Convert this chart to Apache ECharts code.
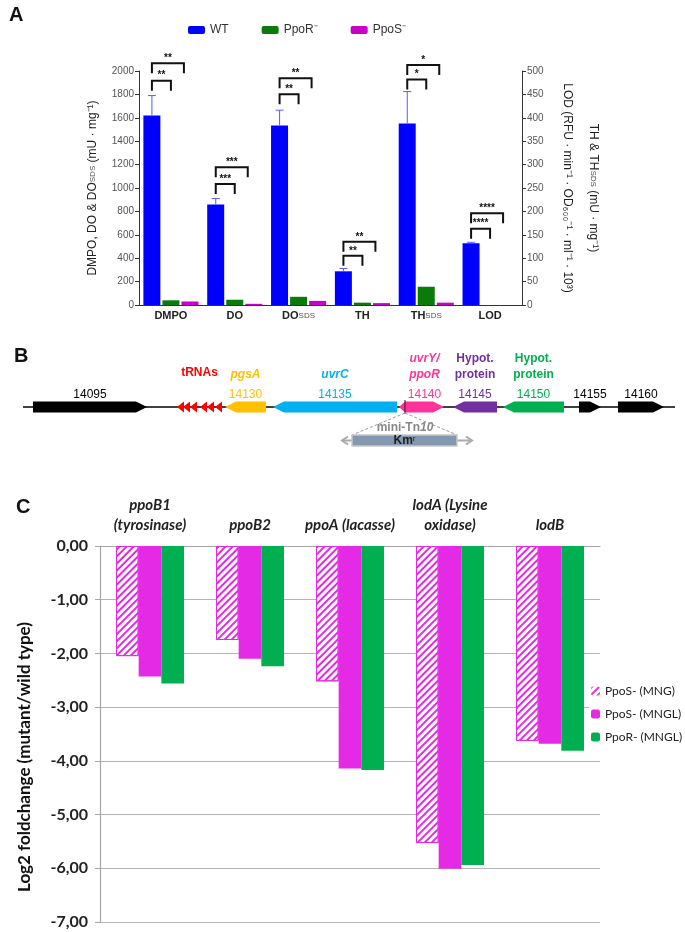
<!DOCTYPE html>
<html>
<head>
<meta charset="utf-8">
<script src="https://cdn.jsdelivr.net/npm/echarts@6/dist/echarts.min.js"></script>
<style>
  html, body { margin: 0; padding: 0; background: #fff; }
  #main { width: 685px; height: 932px; }
</style>
</head>
<body>
<div id="main"></div>
<script>
// ---- panel A : activities (left axis mU/mg, right axis for TH, THsds, LOD)
var assayCats = ['DMPO', 'DO', 'DO_SDS', 'TH', 'TH_SDS', 'LOD'];
var wtLeft    = [1620, 860, 1535, null, null, null];
var ppoRLeft  = [40, 45, 70, null, null, null];
var ppoSLeft  = [30, 10, 35, null, null, null];
var wtRight   = [null, null, null, 72, 388, 132];
var ppoRRight = [null, null, null, 5, 39, 0];
var ppoSRight = [null, null, null, 4, 5, 0];
var wtErrTop  = [1790, 910, 1665, 78, 456, 134];
var sigInner  = [1917, 1034, 1801, 105, 482, 163];
var sigOuter  = [2066, 1177, 1938, 135, 513, 196];
var sigLabels = ['**', '***', '**', '**', '*', '****'];

// ---- panel B : gene map
var locusEnds  = [23, 675];
var geneStart  = [33, 225, 273, 399, 405, 453, 503, 579, 618];
var geneEnd    = [147, 266, 397, 405, 444, 497, 564, 601, 664];
var geneStrand = [1, -1, -1, -1, 1, -1, -1, 1, 1];
var geneIds    = ['14095', '14130', '14135', '', '14140', '14145', '14150', '14155', '14160'];
var geneNames  = ['', 'pgsA', 'uvrC', '', 'uvrY/\nppoR', 'Hypot.\nprotein', 'Hypot.\nprotein', '', ''];
var trnaTips   = [177, 183, 190, 200, 207, 215];
var tnInsert   = 405;
var kmBox      = [352, 457];
var kmArrow    = [342, 472];

// ---- panel C : qPCR log2 fold change
var geneCats = ['ppoB1\n(tyrosinase)', 'ppoB2', 'ppoA (lacasse)', 'lodA (Lysine\noxidase)', 'lodB'];
var ppoSMNG  = [-2.05, -1.75, -2.52, -5.53, -3.63];
var ppoSMNGL = [-2.43, -2.10, -4.14, -6.01, -3.68];
var ppoRMNGL = [-2.56, -2.24, -4.17, -5.94, -3.81];

// styles
var geneColors = ['#000', '#FFC000', '#00B0F0', '#FF3399', '#FF3399', '#7030A0', '#00B050', '#000', '#000'];
var geneItalic = [false, true, true, false, true, false, false, false, false];
var magenta = '#E52AE5';
var barW = 17, barStep = 19;
var fontA = 'Liberation Sans, Arial, sans-serif';
var fontC = 'Lato, Open Sans, sans-serif';

var chart = echarts.init(document.getElementById('main'));

function sigData(from, to) {
  var out = [];
  for (var i = from; i < to; i++) {
    out.push([i, from < 3 ? wtLeft[i] : wtRight[i], wtErrTop[i], sigInner[i], sigOuter[i]]);
  }
  return out;
}

// error bar of WT + the two significance brackets
function renderSig(params, api) {
  var i = api.value(0);
  var c = api.coord([i, 0]);
  var xWT = c[0] - barStep, xR = c[0], xS = c[0] + 13;
  var yTop = api.coord([i, api.value(1)])[1];
  var yErr = api.coord([i, api.value(2)])[1];
  var yIn = api.coord([i, api.value(3)])[1];
  var yOut = api.coord([i, api.value(4)])[1];
  var br = { stroke: '#111', lineWidth: 2, fill: null };
  var lab = sigLabels[i];
  return {
    type: 'group',
    children: [
      { type: 'line', shape: { x1: xWT, y1: yTop, x2: xWT, y2: yErr }, style: { stroke: '#5a5aff', lineWidth: 1 } },
      { type: 'line', shape: { x1: xWT - 4, y1: yErr, x2: xWT + 4, y2: yErr }, style: { stroke: '#5a5aff', lineWidth: 1 } },
      { type: 'polyline', shape: { points: [[xWT, yIn + 10], [xWT, yIn], [xR, yIn], [xR, yIn + 10]] }, style: br },
      { type: 'polyline', shape: { points: [[xWT, yOut + 10], [xWT, yOut], [xS, yOut], [xS, yOut + 10]] }, style: br },
      { type: 'text', x: (xWT + xR) / 2, y: yIn - 5, style: { text: lab, fontSize: 10, fontWeight: 'bold', fill: '#111', align: 'center', verticalAlign: 'middle' } },
      { type: 'text', x: (xWT + xS) / 2, y: yOut - 5, style: { text: lab, fontSize: 10, fontWeight: 'bold', fill: '#111', align: 'center', verticalAlign: 'middle' } }
    ]
  };
}

function renderGene(params, api) {
  var k = params.dataIndex;
  var x1 = api.coord([api.value(0), 0.5])[0];
  var x2 = api.coord([api.value(1), 0.5])[0];
  var y = api.coord([api.value(0), 0.5])[1];
  var h = 5.5, head = Math.min(11, x2 - x1);
  var pts = geneStrand[k] > 0
    ? [[x1, y - h], [x2 - head, y - h], [x2, y], [x2 - head, y + h], [x1, y + h]]
    : [[x2, y - h], [x1 + head, y - h], [x1, y], [x1 + head, y + h], [x2, y + h]];
  var col = geneColors[k];
  var kids = [{ type: 'polygon', shape: { points: pts }, style: { fill: col } }];
  var cx = (x1 + x2) / 2;
  if (geneIds[k]) {
    kids.push({ type: 'text', x: cx, y: y - 12, style: { text: geneIds[k], fill: col, font: '12px ' + fontA, align: 'center', verticalAlign: 'middle' } });
  }
  if (geneNames[k]) {
    kids.push({ type: 'text', x: cx, y: y - 24, style: { text: geneNames[k], fill: col, font: (geneItalic[k] ? 'italic ' : '') + 'bold 12px ' + fontA, align: 'center', verticalAlign: 'bottom', lineHeight: 16 } });
  }
  return { type: 'group', children: kids };
}

function renderTrna(params, api) {
  var x = api.coord([api.value(0), 0.5]);
  var kids = [{ type: 'polygon', shape: { points: [[x[0], x[1]], [x[0] + 7, x[1] - 5.5], [x[0] + 7, x[1] + 5.5]] }, style: { fill: '#FF0000' } }];
  if (params.dataIndex === 0) {
    var mid = api.coord([(trnaTips[0] + trnaTips[trnaTips.length - 1] + 7) / 2, 0.5]);
    kids.push({ type: 'text', x: mid[0], y: mid[1] - 34, style: { text: 'tRNAs', fill: '#FF0000', font: 'bold 12px ' + fontA, align: 'center', verticalAlign: 'middle' } });
  }
  return { type: 'group', children: kids };
}

function renderTn(params, api) {
  var p = api.coord([api.value(0), 0.5]);
  var b1 = api.coord([api.value(1), 0.5])[0];
  var b2 = api.coord([api.value(2), 0.5])[0];
  var a1 = api.coord([api.value(3), 0.5])[0];
  var a2 = api.coord([api.value(4), 0.5])[0];
  var y = p[1];
  var by = y + 28, bh = 11, my = by + bh / 2;
  var dash = { stroke: '#999', lineWidth: 1, lineDash: [3, 2] };
  var arr = { stroke: '#aaa', lineWidth: 2, fill: null };
  return {
    type: 'group',
    children: [
      { type: 'line', shape: { x1: p[0], y1: y - 7, x2: p[0], y2: y + 7 }, style: { stroke: '#222', lineWidth: 1 } },
      { type: 'line', shape: { x1: p[0], y1: y + 6, x2: b1, y2: by }, style: dash },
      { type: 'line', shape: { x1: p[0], y1: y + 6, x2: b2, y2: by }, style: dash },
      { type: 'line', shape: { x1: a1, y1: my, x2: a2, y2: my }, style: arr },
      { type: 'polyline', shape: { points: [[a1 + 6, my - 4], [a1, my], [a1 + 6, my + 4]] }, style: arr },
      { type: 'polyline', shape: { points: [[a2 - 6, my - 4], [a2, my], [a2 - 6, my + 4]] }, style: arr },
      { type: 'rect', shape: { x: b1, y: by, width: b2 - b1, height: bh }, style: { fill: '#8497B0', stroke: '#c8c8c8', lineWidth: 1.5 } },
      { type: 'text', x: (b1 + b2) / 2, y: my, style: { text: 'Km{s|r}', rich: { s: { fontSize: 8, fill: '#222', verticalAlign: 'top' } }, fill: '#222', font: 'bold 12px ' + fontA, align: 'center', verticalAlign: 'middle' } },
      { type: 'text', x: p[0], y: by - 7, style: { text: 'mini-Tn{i|10}', rich: { i: { fontStyle: 'italic', fontWeight: 'bold', fontSize: 12, fill: '#888' } }, fill: '#888', font: 'bold 12px ' + fontA, align: 'center', verticalAlign: 'middle' } }
    ]
  };
}

var sdsRich = { s: { fontSize: 8, fontWeight: 'normal', color: '#555', fontFamily: fontA } };

var option = {
  animation: false,
  textStyle: { fontFamily: fontA },
  graphic: [
    { type: 'text', left: 9, top: 5, style: { text: 'A', font: 'bold 20px ' + fontA, fill: '#111' } },
    { type: 'text', left: 14, top: 346, style: { text: 'B', font: 'bold 20px ' + fontA, fill: '#111' } },
    { type: 'text', left: 16, top: 497, style: { text: 'C', font: 'bold 20px ' + fontA, fill: '#111' } },
    { type: 'text', x: 25, y: 757, rotation: Math.PI / 2, style: { text: 'Log2 foldchange (mutant/wild type)', font: 'bold 17px ' + fontC, fill: '#111', align: 'center', verticalAlign: 'middle' } }
  ],
  legend: [
    {
      data: ['WT', 'PpoR⁻', 'PpoS⁻'], left: 183, top: 19, itemWidth: 17, itemHeight: 8, itemGap: 33,
      selectedMode: false, textStyle: { fontSize: 12, color: '#333', fontFamily: 'Liberation Sans Narrow, Liberation Sans' }
    },
    {
      data: ['PpoS- (MNG)', 'PpoS- (MNGL)', 'PpoR- (MNGL)'], orient: 'vertical', left: 589, top: 683,
      itemWidth: 9, itemHeight: 9, itemGap: 11, itemStyle: { borderWidth: 0 }, selectedMode: false,
      backgroundColor: '#fff', padding: [2, 2], itemTextGap: 3,
      textStyle: { fontSize: 12, color: '#222', fontFamily: fontC }
    }
  ],
  grid: [
    { left: 139, top: 71, width: 383, height: 234, outerBoundsMode: 'none' },
    { left: 0, top: 397, width: 685, height: 20, outerBoundsMode: 'none' },
    { left: 100, top: 546, width: 500, height: 376, outerBoundsMode: 'none' }
  ],
  xAxis: [
    {
      type: 'category', gridIndex: 0, data: assayCats,
      axisLine: { lineStyle: { color: '#333', width: 1 } }, axisTick: { show: false },
      axisLabel: {
        margin: 5, interval: 0, fontSize: 11, fontWeight: 'bold', color: '#222',
        formatter: function (v) { return v.replace('_SDS', '{s|SDS}'); }, rich: sdsRich
      }
    },
    { type: 'category', gridIndex: 0, data: assayCats, show: false },
    { type: 'value', gridIndex: 1, min: 0, max: 685, show: false },
    {
      type: 'category', gridIndex: 2, data: geneCats, position: 'top',
      axisLine: { lineStyle: { color: '#A6A6A6', width: 1.2 } },
      axisTick: { inside: true, length: 4, lineStyle: { color: '#A6A6A6' } },
      axisLabel: { margin: 11, interval: 0, fontSize: 15, fontWeight: 'bold', fontStyle: 'italic', color: '#222', fontFamily: fontC, lineHeight: 20 }
    }
  ],
  yAxis: [
    {
      type: 'value', gridIndex: 0, min: 0, max: 2000, interval: 200,
      name: 'DMPO, DO & DO{s|SDS} (mU · mg⁻¹)', nameLocation: 'middle', nameGap: 40,
      nameTextStyle: { fontSize: 12, color: '#222', rich: sdsRich },
      axisLine: { show: true, lineStyle: { color: '#333' } },
      axisTick: { show: true, length: 4, lineStyle: { color: '#333' } },
      axisLabel: { margin: 5, fontSize: 10, color: '#555', formatter: function (v) { return String(v); } },
      splitLine: { show: false }
    },
    {
      type: 'value', gridIndex: 0, min: 0, max: 500, interval: 50, position: 'right',
      name: 'TH & TH{s|SDS} (mU · mg⁻¹)\nLOD (RFU · min⁻¹ · OD₆₀₀⁻¹ · ml⁻¹ · 10³)',
      nameLocation: 'middle', nameRotate: -90, nameGap: 28,
      nameTextStyle: { fontSize: 12, color: '#222', lineHeight: 26, rich: sdsRich },
      axisLine: { show: true, lineStyle: { color: '#333' } },
      axisTick: { show: true, length: 4, lineStyle: { color: '#333' } },
      axisLabel: { margin: 5, fontSize: 10, color: '#555', formatter: function (v) { return String(v); } },
      splitLine: { show: false }
    },
    { type: 'value', gridIndex: 1, min: 0, max: 1, show: false },
    {
      type: 'value', gridIndex: 2, min: -7, max: 0, interval: 1,
      axisLine: { show: true, lineStyle: { color: '#A6A6A6', width: 1.2 } },
      axisTick: { show: true, length: 5, lineStyle: { color: '#A6A6A6' } },
      axisLabel: {
        margin: 12, fontSize: 16, fontWeight: 'bold', color: '#222', fontFamily: fontC,
        formatter: function (v) { return v.toFixed(2).replace('.', ','); }
      },
      splitLine: { show: true, lineStyle: { color: '#B4B4B4', width: 1.2 } }
    }
  ],
  series: [
    { name: 'WT', type: 'bar', xAxisIndex: 0, yAxisIndex: 0, data: wtLeft, barWidth: barW, barGap: '12%', itemStyle: { color: '#0000FF' } },
    { name: 'PpoR⁻', type: 'bar', xAxisIndex: 0, yAxisIndex: 0, data: ppoRLeft, barWidth: barW, barGap: '12%', itemStyle: { color: '#0A7A0A' } },
    { name: 'PpoS⁻', type: 'bar', xAxisIndex: 0, yAxisIndex: 0, data: ppoSLeft, barWidth: barW, barGap: '12%', itemStyle: { color: '#C800C8' } },
    { name: 'WT', type: 'bar', xAxisIndex: 1, yAxisIndex: 1, data: wtRight, barWidth: barW, barGap: '12%', itemStyle: { color: '#0000FF' } },
    { name: 'PpoR⁻', type: 'bar', xAxisIndex: 1, yAxisIndex: 1, data: ppoRRight, barWidth: barW, barGap: '12%', itemStyle: { color: '#0A7A0A' } },
    { name: 'PpoS⁻', type: 'bar', xAxisIndex: 1, yAxisIndex: 1, data: ppoSRight, barWidth: barW, barGap: '12%', itemStyle: { color: '#C800C8' } },
    { type: 'custom', xAxisIndex: 0, yAxisIndex: 0, data: sigData(0, 3), renderItem: renderSig, z: 5 },
    { type: 'custom', xAxisIndex: 1, yAxisIndex: 1, data: sigData(3, 6), renderItem: renderSig, z: 5 },

    // gene map
    {
      type: 'line', xAxisIndex: 2, yAxisIndex: 2, symbol: 'none', silent: true,
      data: [[locusEnds[0], 0.5], [locusEnds[1], 0.5]], lineStyle: { color: '#000', width: 1.5 }, z: 1
    },
    {
      type: 'custom', xAxisIndex: 2, yAxisIndex: 2, renderItem: renderGene, z: 3,
      encode: { x: [0, 1] },
      data: geneStart.map(function (s, k) { return [s, geneEnd[k]]; })
    },
    {
      type: 'custom', xAxisIndex: 2, yAxisIndex: 2, renderItem: renderTrna, z: 3,
      encode: { x: 0 }, data: trnaTips.map(function (t) { return [t]; })
    },
    {
      type: 'custom', xAxisIndex: 2, yAxisIndex: 2, renderItem: renderTn, z: 4,
      encode: { x: [0, 1, 2, 3, 4] }, data: [[tnInsert, kmBox[0], kmBox[1], kmArrow[0], kmArrow[1]]]
    },

    // panel C
    {
      name: 'PpoS- (MNG)', type: 'bar', xAxisIndex: 3, yAxisIndex: 3, data: ppoSMNG,
      barGap: '0%', barCategoryGap: '32%',
      itemStyle: {
        color: '#fff', borderColor: magenta, borderWidth: 1,
        decal: { symbol: 'rect', symbolSize: 1, color: magenta, dashArrayX: [1, 0], dashArrayY: [2, 3], rotation: -Math.PI / 4 }
      }
    },
    { name: 'PpoS- (MNGL)', type: 'bar', xAxisIndex: 3, yAxisIndex: 3, data: ppoSMNGL, barGap: '0%', barCategoryGap: '32%', itemStyle: { color: magenta } },
    { name: 'PpoR- (MNGL)', type: 'bar', xAxisIndex: 3, yAxisIndex: 3, data: ppoRMNGL, barGap: '0%', barCategoryGap: '32%', itemStyle: { color: '#00B050' } }
  ]
};

chart.setOption(option);
</script>
</body>
</html>
